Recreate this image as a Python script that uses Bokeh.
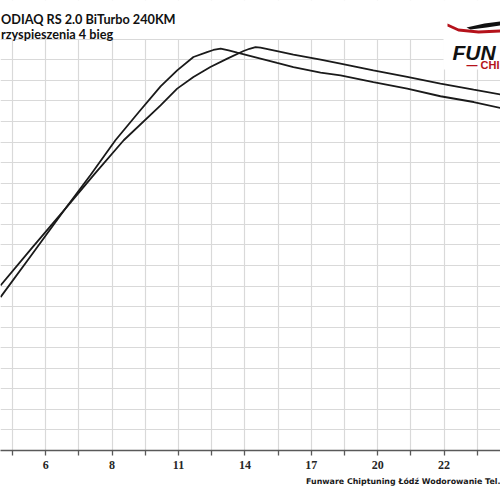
from bokeh.plotting import figure
from bokeh.models import FixedTicker, Grid, Label, BoxAnnotation, Range1d, PolyAnnotation, Title
from bokeh.embed import file_html
from bokeh.resources import INLINE

# ---- data (x in category-tick units, y in chart units; y gridline every 10) ----
tick_positions = list(range(0, 15))
label_positions = [1, 3, 5, 7, 9, 11, 13]
label_texts = ["6", "8", "11", "14", "17", "20", "22"]
y_grid_values = list(range(0, 201, 10))

curve_a_x = [-0.36, 0.54, 1.60, 2.35, 3.10, 3.80, 4.46, 4.96, 5.45, 5.86, 6.05, 6.27,
             6.51, 6.77, 7.47, 7.97, 8.46, 9.28, 9.88, 10.87, 11.89, 12.89, 13.89, 14.70]
curve_a_y = [74.6, 94.4, 117.8, 134.0, 150.9, 164.5, 177.1, 184.9, 191.4, 193.8, 194.8, 195.5,
             194.6, 193.5, 190.6, 188.5, 186.5, 183.8, 182.5, 179.2, 176.0, 172.3, 169.5, 166.6]

curve_b_x = [-0.36, 0.60, 1.60, 2.50, 3.35, 4.46, 4.96, 5.45, 5.96, 6.47, 6.96, 7.14, 7.32,
             7.47, 7.97, 8.46, 9.28, 9.88, 10.87, 11.89, 12.89, 13.89, 14.70]
curve_b_y = [80.3, 98.8, 117.8, 135.0, 150.9, 167.9, 176.0, 181.7, 186.5, 190.6, 194.3, 195.4, 196.2,
             195.9, 194.3, 192.6, 190.1, 188.2, 184.9, 181.7, 178.4, 175.5, 173.2]

title_1 = "ODIAQ RS 2.0 BiTurbo 240KM"
title_2 = "rzyspieszenia 4 bieg"
footer = "Funware Chiptuning Łódź Wodorowanie Tel."
logo_1 = "FUN"
logo_2 = "— CHI"

# ---- helpers converting reference pixel positions for decorations ----
def ux(px):
    return (px - 12.0) / 33.2

def uy(py):
    return (450.0 - py) / 20.56 * 10.0

p = figure(width=500, height=500, output_backend="svg", toolbar_location=None,
           x_range=Range1d(ux(0), ux(500)), y_range=Range1d(0, uy(0)),
           y_axis_location=None, min_border_left=0, min_border_right=0,
           min_border_top=0, min_border_bottom=50)
p.outline_line_color = None
p.background_fill_color = "white"
p.border_fill_color = "white"

ax = p.xaxis[0]
ax.ticker = FixedTicker(ticks=tick_positions)
ax.major_label_overrides = {t: "" for t in tick_positions}
ax.major_label_overrides.update({pos: txt for pos, txt in zip(label_positions, label_texts)})
ax.axis_line_color = "#595959"
ax.axis_line_width = 1.6
ax.major_tick_line_color = "#595959"
ax.major_tick_line_width = 1.3
ax.major_tick_out = 5
ax.major_tick_in = 0
ax.minor_tick_line_color = None
ax.major_label_standoff = 5
ax.major_label_text_font = "Liberation Serif"
ax.major_label_text_font_style = "bold"
ax.major_label_text_font_size = "12px"
ax.major_label_text_color = "#262626"

p.xgrid.ticker = FixedTicker(ticks=tick_positions)
p.xgrid.grid_line_color = "#d9d9d9"
p.xgrid.grid_line_width = 1.2
ygrid = Grid(dimension=1, ticker=FixedTicker(ticks=y_grid_values),
             grid_line_color="#d9d9d9", grid_line_width=1.2)
p.add_layout(ygrid)

p.line(curve_a_x, curve_a_y, line_color="#1a1a1a", line_width=1.8)
p.line(curve_b_x, curve_b_y, line_color="#1a1a1a", line_width=1.8)

# white area above the plotting grid (title area)
p.add_layout(BoxAnnotation(bottom=uy(38.6), fill_color="white", fill_alpha=1.0, line_alpha=0))

# logo background
p.add_layout(BoxAnnotation(left=ux(443), bottom=uy(69), fill_color="white", fill_alpha=1.0,
                           line_alpha=0))
p.add_layout(PolyAnnotation(xs=[ux(v) for v in [447, 458, 478, 500, 500, 478, 458, 447]],
                            ys=[uy(v) for v in [23, 28, 30, 29, 32, 33, 31, 26]],
                            fill_color="#b5121b", fill_alpha=1.0, line_alpha=0))
p.add_layout(PolyAnnotation(xs=[ux(v) for v in [466, 484, 500, 500, 486, 470]],
                            ys=[uy(v) for v in [27, 23, 21, 25, 27, 29]],
                            fill_color="#111111", fill_alpha=1.0, line_alpha=0))
p.add_layout(Label(x=ux(452), y=uy(51.5), text=logo_1, text_font="Liberation Sans",
                   text_font_style="bold italic", text_font_size="21px", text_color="#111111",
                   text_baseline="alphabetic"))
p.add_layout(Label(x=ux(499), y=uy(64), text=logo_2, text_font="Liberation Sans",
                   text_font_style="bold", text_font_size="11px", text_color="#b5121b",
                   text_baseline="alphabetic", text_align="right"))

# titles
p.add_layout(Label(x=ux(0.5), y=uy(18.5), text=title_1, text_font="Lato",
                   text_font_style="bold", text_font_size="12.7px", text_color="#111111",
                   text_baseline="alphabetic"))
p.add_layout(Label(x=ux(0.5), y=uy(33.5), text=title_2, text_font="Lato",
                   text_font_style="bold", text_font_size="12.7px", text_color="#111111",
                   text_baseline="alphabetic"))

# footer
p.add_layout(Title(text=footer, align="right", text_font="DejaVu Sans", text_font_style="bold",
                   text_font_size="7.9px", text_color="#1a1a1a", standoff=7, offset=0), "below")

open("out.html", "w").write(file_html(p, INLINE))
